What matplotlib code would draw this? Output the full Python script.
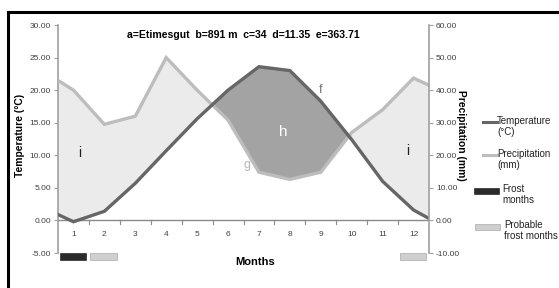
import numpy as np
import matplotlib
matplotlib.use('Agg')
import matplotlib.pyplot as plt
from matplotlib.patches import Rectangle
from matplotlib.lines import Line2D

plt.rcParams['font.family'] = ['Liberation Sans', 'DejaVu Sans']

# data (monthly values, plus the two edge points of the lines)
months = [1, 2, 3, 4, 5, 6, 7, 8, 9, 10, 11, 12]
temp = [-0.2, 1.4, 5.7, 10.7, 15.6, 20.0, 23.6, 23.0, 18.3, 12.4, 6.0, 1.6]
precip = [40.0, 29.5, 32.0, 50.0, 40.0, 30.8, 14.8, 12.6, 14.8, 27.0, 34.0, 43.7]
temp_edges = [0.9, 0.3]
precip_edges = [43.0, 41.5]
frost = [1]
probable_frost = [2, 12]
title = 'a=Etimesgut  b=891 m  c=34  d=11.35  e=363.71'

x = np.array([0.5] + months + [12.5], dtype=float)
t = np.array([temp_edges[0]] + temp + [temp_edges[1]])
p = np.array([precip_edges[0]] + precip + [precip_edges[1]])

# densify so fill_between finds the crossings cleanly
xf = np.linspace(0.5, 12.5, 1201)
tf = np.interp(xf, x, t)
pf = np.interp(xf, x, p) / 2.0

W, H = 559, 288
fig = plt.figure(figsize=(W / 100, H / 100), dpi=100)
fig.patch.set_facecolor('white')
ax = fig.add_axes([58 / W, 1 - 253 / H, (429 - 58) / W, (253 - 25) / H])
ax2 = ax.twinx()

ax.fill_between(xf, tf, pf, where=pf >= tf, color='#ebebeb', lw=0)
ax.fill_between(xf, tf, pf, where=tf >= pf, color='#a3a3a3', lw=0)
ax.plot(x, t, color='#666666', lw=2.4, solid_joinstyle='miter', zorder=4)
ax.plot(x, p / 2.0, color='#bdbdbd', lw=2.4, solid_joinstyle='miter', zorder=3)

ax.set_xlim(0.5, 12.5)
ax.set_ylim(-5, 30)
ax2.set_ylim(-10, 60)
ax.set_yticks(np.arange(-5, 31, 5))
ax.set_yticklabels(['%.2f' % v for v in np.arange(-5, 31, 5)])
ax2.set_yticks(np.arange(-10, 61, 10))
ax2.set_yticklabels(['%.2f' % v for v in np.arange(-10, 61, 10)])

for a in (ax, ax2):
    a.set_facecolor('none')
    a.spines['top'].set_visible(False)
    a.spines['bottom'].set_visible(False)
    a.spines['left'].set_color('#a0a0a0')
    a.spines['right'].set_color('#a0a0a0')
    a.spines['left'].set_linewidth(1.2)
    a.spines['right'].set_linewidth(1.2)
    a.tick_params(axis='y', labelsize=6, labelcolor='#404040', color='#a0a0a0',
                  length=3, width=0.8, pad=2)
ax2.spines['left'].set_visible(False)
ax.spines['right'].set_visible(False)

# month axis sits on zero
ax.axhline(0, color='#8a8a8a', lw=1.0, zorder=2)
ax.set_xticks([])
for m in months:
    ax.text(m, -2.2, str(m), ha='center', va='center', fontsize=6, color='#404040')
for m in np.arange(1.5, 12.5, 1.0):
    ax.plot([m, m], [0, -0.5], color='#8a8a8a', lw=0.8, zorder=2)

# frost bars below the axis
for m in frost:
    ax.add_patch(Rectangle((m - 0.45, -6.0), 0.85, 1.05, facecolor='#2b2b2b',
                           edgecolor='#2b2b2b', lw=0.5, clip_on=False))
for m in probable_frost:
    ax.add_patch(Rectangle((m - 0.45, -6.0), 0.85, 1.05, facecolor='#cfcfcf',
                           edgecolor='#aaaaaa', lw=0.5, clip_on=False))

ax.text(1.2, 10.4, 'i', fontsize=10, ha='center', va='center', color='#222222')
ax.text(11.8, 10.6, 'i', fontsize=10, ha='center', va='center', color='#222222')
ax.text(7.8, 13.6, 'h', fontsize=11, ha='center', va='center', color='white')
ax.text(9.0, 20.0, 'f', fontsize=9, ha='center', va='center', color='#707070')
ax.text(6.6, 8.5, 'g', fontsize=9, ha='center', va='center', color='#b5b5b5')

fig.text(243 / W, 1 - 35 / H, title, fontsize=7.6, fontweight='bold',
         ha='center', va='center')
fig.text(255 / W, 1 - 262 / H, 'Months', fontsize=8, fontweight='bold',
         ha='center', va='center')
fig.text(20 / W, 1 - 135 / H, 'Temperature (°C)', fontsize=7.4, fontweight='bold',
         rotation=90, ha='center', va='center')
fig.text(461 / W, 1 - 135 / H, 'Precipitation (mm)', fontsize=7.4, fontweight='bold',
         rotation=270, ha='center', va='center')

# legend drawn by hand
fig.add_artist(Line2D([483 / W, 497 / W], [1 - 122 / H] * 2, color='#666666', lw=2.2))
fig.text(497 / W, 1 - 116 / H, 'Temperature\n(°C)', fontsize=7, va='top', ha='left',
         color='#222222', linespacing=1.1)
fig.add_artist(Line2D([483 / W, 497 / W], [1 - 155 / H] * 2, color='#bdbdbd', lw=2.2))
fig.text(497 / W, 1 - 149 / H, 'Precipitation\n(mm)', fontsize=7, va='top', ha='left',
         color='#222222', linespacing=1.1)
fig.add_artist(Rectangle((474 / W, 1 - 194 / H), 25 / W, 6 / H, facecolor='#2b2b2b',
                         edgecolor='#2b2b2b', lw=0.5))
fig.text(502 / W, 1 - 184 / H, 'Frost\nmonths', fontsize=7, va='top', ha='left',
         color='#222222', linespacing=1.1)
fig.add_artist(Rectangle((475 / W, 1 - 230 / H), 25 / W, 6 / H, facecolor='#cfcfcf',
                         edgecolor='#aaaaaa', lw=0.5))
fig.text(504 / W, 1 - 220 / H, 'Probable\nfrost months', fontsize=7, va='top', ha='left',
         color='#222222', linespacing=1.1)

# outer frame (runs off the right and bottom edges)
fig.add_artist(Line2D([8 / W, 8 / W], [-0.1, 1 - 12 / H], color='black', lw=2.2))
fig.add_artist(Line2D([8 / W, 1.1], [1 - 12 / H] * 2, color='black', lw=2.2))

fig.savefig('out.png', dpi=100)
